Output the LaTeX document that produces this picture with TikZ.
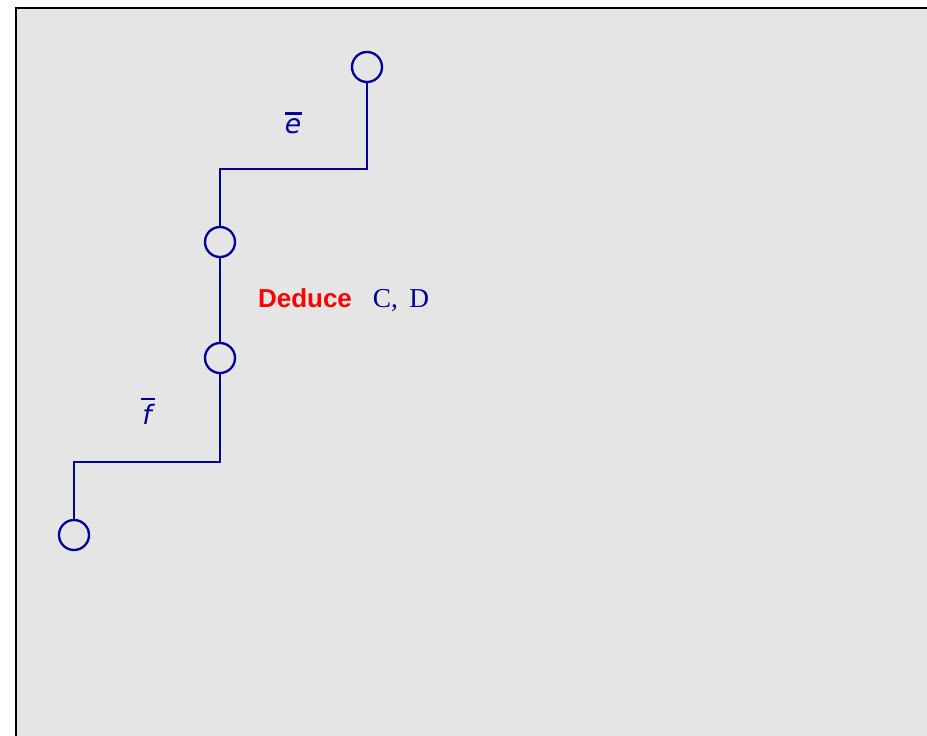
\documentclass[tikz,border=0pt]{standalone}
\usepackage{fontspec}
\usetikzlibrary{calc}
\newfontfamily\dedfont{Liberation Sans}
\newfontfamily\lblfont{DejaVu Sans}
\newfontfamily\cdfont{Liberation Serif}
\definecolor{pathblue}{RGB}{0,0,150}
\definecolor{bggray}{RGB}{229,229,229}
\begin{document}
\begin{tikzpicture}[x=0.75pt,y=-0.75pt,
  port/.style={circle,draw=pathblue,line width=1.75pt,minimum size=22.5pt,inner sep=0pt},
  wire/.style={draw=pathblue,line width=1.75pt},
  bar/.style={draw=pathblue,line width=2pt},
  lbl/.style={text=pathblue,font=\lblfont\itshape\fontsize{20}{24}\selectfont,inner sep=0pt,anchor=base}]
\useasboundingbox (0,0) rectangle (927,735);
\begin{scope}
\clip (0,0) rectangle (927,735);
\draw[fill=bggray,draw=black,line width=1.2pt] (16,8) rectangle (960,760);
\end{scope}
\node[port] (p1) at (367,67) {};
\node[port] (p2) at (220,242) {};
\node[port] (p3) at (220,358) {};
\node[port] (p4) at (74,535) {};
\coordinate (c1) at (367,169);
\coordinate (c2) at (220,169);
\coordinate (c3) at (220,462);
\coordinate (c4) at (74,462);
\draw[wire] (p1.south) -- (c1) -- (c2) -- (p2.north);
\draw[wire] (p2.south) -- (p3.north);
\draw[wire] (p3.south) -- (c3) -- (c4) -- (p4.north);
\node[lbl] (le) at (293,133) {e};
\draw[bar] ($(le.base)+(-8,-19.5)$) -- ($(le.base)+(9,-19.5)$);
\node[lbl] (lf) at (147,424) {f};
\draw[bar] ($(lf.base)+(-6,-25)$) -- ($(lf.base)+(8,-25)$);
\node[text=red,font=\dedfont\bfseries\fontsize{19.5}{23}\selectfont,inner sep=0pt,anchor=base] (ded) at (305,307) {Deduce};
\node[text=pathblue,font=\cdfont\fontsize{20.5}{24}\selectfont,inner sep=0pt,anchor=base] (cd) at (401,307) {C,\,\ D};
\end{tikzpicture}
\end{document}
